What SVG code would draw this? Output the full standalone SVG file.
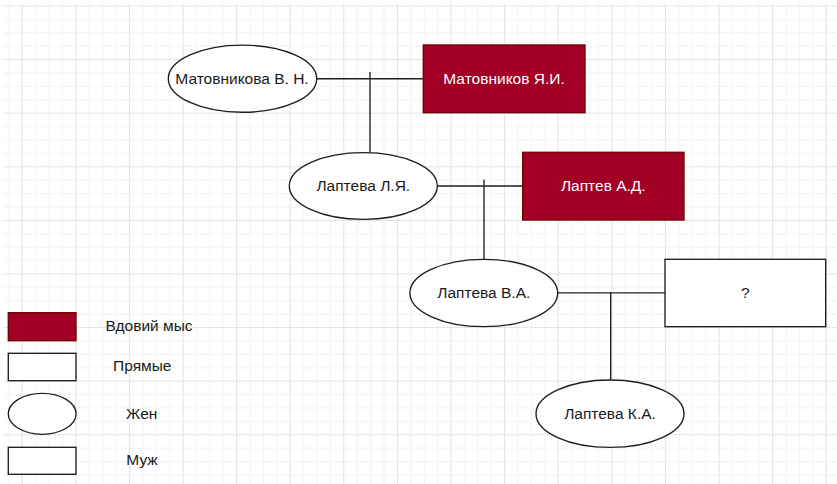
<svg xmlns="http://www.w3.org/2000/svg" width="837" height="484" viewBox="0 0 837 484">
<style>
  .lbl{font-family:"Liberation Sans",Arial,sans-serif;font-size:15.5px;fill:#1a1a1a;text-anchor:middle}
  .wlbl{font-family:"Liberation Sans",Arial,sans-serif;font-size:15.5px;fill:#ffffff;text-anchor:middle}
  .fem{fill:#ffffff;stroke:#1e1e1e;stroke-width:1.35}
  .male{fill:#ffffff;stroke:#1e1e1e;stroke-width:1.35}
  .widow{fill:#a20025;stroke:#6f0000;stroke-width:1.35}
  .conn{stroke:#1e1e1e;stroke-width:1.35;fill:none}
</style>
<defs>
  <pattern id="grid" patternUnits="userSpaceOnUse" x="21.7" y="5.5" width="53.6" height="53.6">
    <rect x="13.4" y="0" width="1" height="53.6" fill="#f2f2f2"/>
    <rect x="26.8" y="0" width="1" height="53.6" fill="#f2f2f2"/>
    <rect x="40.2" y="0" width="1" height="53.6" fill="#f2f2f2"/>
    <rect x="0" y="13.4" width="53.6" height="1" fill="#f2f2f2"/>
    <rect x="0" y="26.8" width="53.6" height="1" fill="#f2f2f2"/>
    <rect x="0" y="40.2" width="53.6" height="1" fill="#f2f2f2"/>
    <rect x="0" y="0" width="1" height="53.6" fill="#e2e2e2"/>
    <rect x="0" y="0" width="53.6" height="1" fill="#e2e2e2"/>
  </pattern>
</defs>
<rect width="837" height="484" fill="#ffffff"/>
<rect x="3.5" y="3.5" width="834" height="481" fill="url(#grid)"/>

<g id="connectors">
  <path class="conn" d="M316.7 78.7 H423.3"/>
  <path class="conn" d="M370 72 V152.7"/>
  <path class="conn" d="M437.3 186 H522.7"/>
  <path class="conn" d="M484 179.5 V259.3"/>
  <path class="conn" d="M557.7 292.8 H665"/>
  <path class="conn" d="M610.7 292.8 V380"/>
</g>

<g id="matovnikova">
  <ellipse class="fem" cx="242.5" cy="78.7" rx="74.2" ry="33.6"/>
  <text class="lbl" x="242" y="84">Матовникова В. Н.</text>
</g>
<g id="matovnikov">
  <rect class="widow" x="423.3" y="45" width="161.7" height="67.7"/>
  <text class="wlbl" x="504" y="84">Матовников Я.И.</text>
</g>
<g id="lapteva-lya">
  <ellipse class="fem" cx="363.3" cy="186" rx="74" ry="33.4"/>
  <text class="lbl" x="363.3" y="191.3">Лаптева Л.Я.</text>
</g>
<g id="laptev-ad">
  <rect class="widow" x="522.7" y="152.3" width="161.3" height="67.7"/>
  <text class="wlbl" x="603.3" y="191.3">Лаптев А.Д.</text>
</g>
<g id="lapteva-va">
  <ellipse class="fem" cx="483.8" cy="293" rx="73.9" ry="33.7"/>
  <text class="lbl" x="483.8" y="298.3">Лаптева В.А.</text>
</g>
<g id="unknown">
  <rect class="male" x="665" y="259.3" width="160.7" height="67.4"/>
  <text class="lbl" x="745.3" y="298.3">?</text>
</g>
<g id="lapteva-ka">
  <ellipse class="fem" cx="610" cy="413.7" rx="74" ry="33.7"/>
  <text class="lbl" x="610" y="419">Лаптева К.А.</text>
</g>

<g id="legend">
  <rect class="widow" x="8.3" y="312.7" width="67.7" height="28"/>
  <text class="lbl" x="149" y="331">Вдовий мыс</text>
  <rect class="male" x="8.3" y="353.3" width="67.7" height="27.4"/>
  <text class="lbl" x="142.3" y="371.3">Прямые</text>
  <ellipse class="fem" cx="42.2" cy="413.8" rx="33.9" ry="20.5"/>
  <text class="lbl" x="141.7" y="418.7">Жен</text>
  <rect class="male" x="8.3" y="447.3" width="67.7" height="27"/>
  <text class="lbl" x="142" y="464.7">Муж</text>
</g>
</svg>
